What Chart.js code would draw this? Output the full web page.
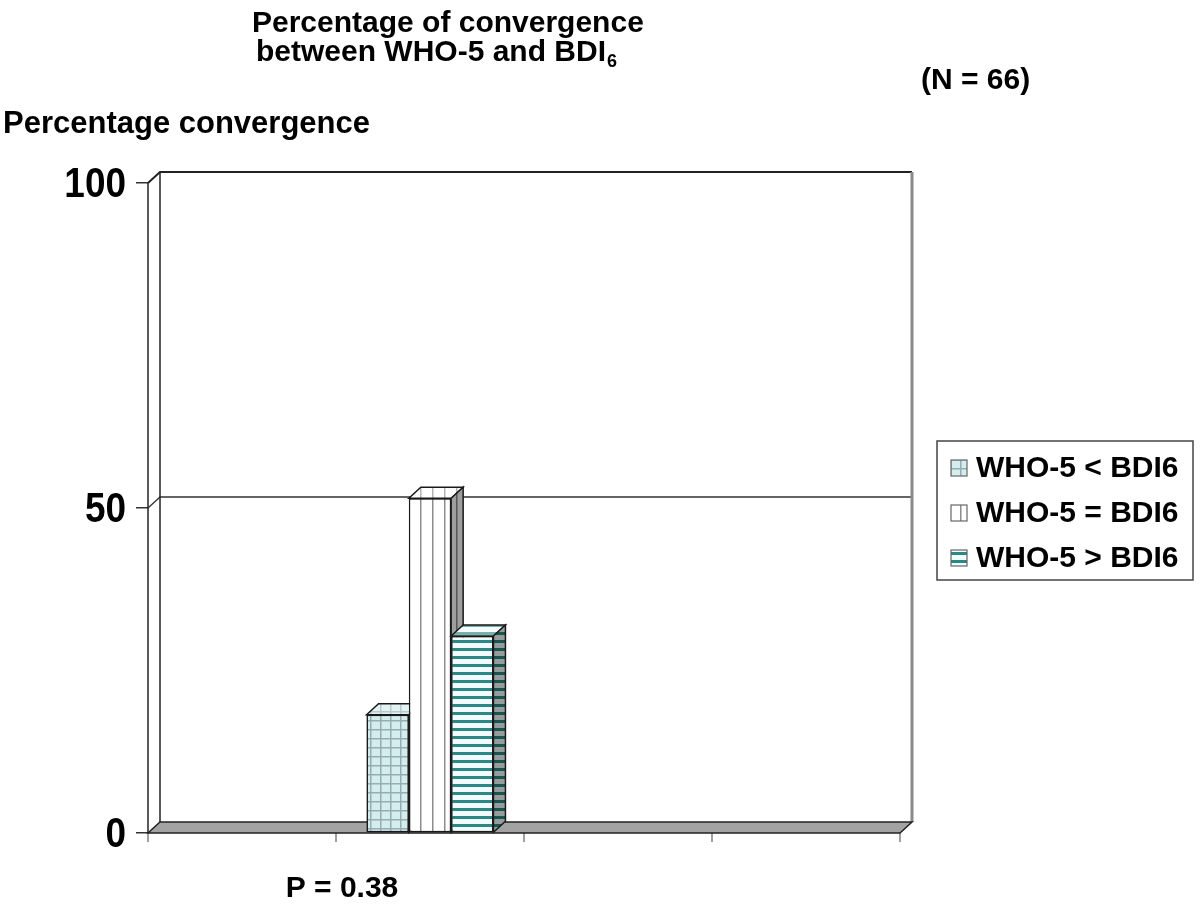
<!DOCTYPE html>
<html>
<head>
<meta charset="utf-8">
<script src="https://cdn.jsdelivr.net/npm/chart.js@4"></script>
<style>
    html, body { margin: 0; padding: 0; background: #fff; }
    #wrap { width: 1200px; height: 905px; position: relative; }
</style>
</head>
<body>
<div id="wrap"><canvas id="chart"></canvas></div>
<script>
// --- DATA ---
const slots = ['', '', '', ''];          // four positions along the floor, bars stand in the 2nd one
const barSlot = 1;
const seriesLabels = ['WHO-5 < BDI6', 'WHO-5 = BDI6', 'WHO-5 > BDI6'];
const seriesValues = [18.2, 51.5, 30.3];
const yTicks = [0, 50, 100];
const titleLines = ['Percentage of convergence', 'between WHO-5 and BDI'];
const titleSub = '6';
const nLabel = '(N = 66)';
const yTitle = 'Percentage convergence';
const pValueLabel = 'P = 0.38';

// --- 3D LOOK ---
const DX = 12, DY = -11;
const FONT = '"Liberation Sans", Arial, sans-serif';

const makePattern = (w, h, bg, draw) => {
    const c = document.createElement('canvas');
    c.width = w; c.height = h;
    const g = c.getContext('2d');
    g.fillStyle = bg;
    g.fillRect(0, 0, w, h);
    draw(g);
    return g.createPattern(c, 'repeat');
};

const patterns = [
    makePattern(10, 9, '#d4edef', g => {
        g.fillStyle = '#98adb0';
        g.fillRect(0, 0, 10, 1.5);
        g.fillRect(0, 0, 1.5, 9);
    }),
    makePattern(12, 2, '#ffffff', g => {
        g.fillStyle = '#8c8c8c';
        g.fillRect(0, 0, 1.5, 2);
    }),
    makePattern(2, 8, '#f2fbfb', g => {
        g.fillStyle = '#2b8884';
        g.fillRect(0, 0, 2, 3);
    })
];

const poly = (ctx, pts, fill, overlay, stroke) => {
    ctx.beginPath();
    pts.forEach((p, i) => i ? ctx.lineTo(p[0], p[1]) : ctx.moveTo(p[0], p[1]));
    ctx.closePath();
    if (fill) { ctx.fillStyle = fill; ctx.fill(); }
    if (overlay) { ctx.fillStyle = overlay; ctx.fill(); }
    if (stroke) { ctx.strokeStyle = stroke; ctx.lineWidth = 1.5; ctx.stroke(); }
};

const line = (ctx, pts, color, width) => {
    ctx.beginPath();
    pts.forEach((p, i) => i ? ctx.lineTo(p[0], p[1]) : ctx.moveTo(p[0], p[1]));
    ctx.strokeStyle = color;
    ctx.lineWidth = width;
    ctx.stroke();
};

const box3d = {
    id: 'box3d',
    beforeDatasetsDraw(chart) {
        const { ctx, chartArea: a, scales: { y } } = chart;
        ctx.save();
        // back wall + grid lines (0 is the floor)
        yTicks.filter(v => v > 0).forEach(v => {
            const py = y.getPixelForValue(v);
            line(ctx, [[a.left, py], [a.left + DX, py + DY], [a.right + DX, py + DY]], v === 100 ? '#222' : '#333', v === 100 ? 2 : 1.3);
        });
        line(ctx, [[a.right + DX, a.top + DY], [a.right + DX, a.bottom + DY]], '#8a8a8a', 3);
        line(ctx, [[a.left + DX, a.top + DY], [a.left + DX, a.bottom + DY]], '#222', 1.5);
        line(ctx, [[a.left, a.top], [a.left, a.bottom]], '#222', 1.5);
        // floor
        poly(ctx, [[a.left, a.bottom], [a.right, a.bottom], [a.right + DX, a.bottom + DY], [a.left + DX, a.bottom + DY]], '#a3a3a3', null, '#222');
        ctx.restore();
    },
    afterDatasetsDraw(chart) {
        const { ctx } = chart;
        const bars = [];
        chart.data.datasets.forEach((ds, i) => {
            chart.getDatasetMeta(i).data.forEach((el, k) => {
                if (ds.data[k] != null) bars.push({ el, i });
            });
        });
        bars.sort((p, q) => p.el.x - q.el.x);
        ctx.save();
        bars.forEach(({ el, i }) => {
            const l = el.x - el.width / 2, r = el.x + el.width / 2;
            el.draw(ctx);
            poly(ctx, [[l, el.y], [r, el.y], [r + DX, el.y + DY], [l + DX, el.y + DY]], patterns[i], 'rgba(255,255,255,0.35)', '#1a1a1a');
            poly(ctx, [[r, el.y], [r + DX, el.y + DY], [r + DX, el.base + DY], [r, el.base]], patterns[i], 'rgba(0,0,0,0.38)', '#1a1a1a');
        });
        ctx.restore();
    },
    afterDraw(chart) {
        const { ctx, scales: { x, y } } = chart;
        ctx.save();
        ctx.fillStyle = '#000';
        // y tick labels, a bit tall and narrow like the original
        ctx.textAlign = 'right';
        ctx.textBaseline = 'middle';
        ctx.font = `bold 42px ${FONT}`;
        yTicks.forEach(v => {
            ctx.save();
            ctx.translate(126, y.getPixelForValue(v) + 2);
            ctx.scale(0.88, 1);
            ctx.fillText(String(v), 0, 0);
            ctx.restore();
        });
        ctx.textBaseline = 'alphabetic';
        ctx.textAlign = 'left';
        // titles
        ctx.font = `bold 30px ${FONT}`;
        ctx.fillText(titleLines[0], 252, 32);
        ctx.fillText(titleLines[1], 256, 61);
        const w = ctx.measureText(titleLines[1]).width;
        ctx.font = `bold 18px ${FONT}`;
        ctx.fillText(titleSub, 256 + w + 1, 67);
        ctx.font = `bold 30px ${FONT}`;
        ctx.fillText(nLabel, 921, 89);
        ctx.font = `bold 31px ${FONT}`;
        ctx.fillText(yTitle, 3, 133);
        // p value under the floor
        ctx.textAlign = 'center';
        ctx.font = `bold 30px ${FONT}`;
        ctx.fillText(pValueLabel, x.getPixelForValue(0.5) + 6, 897);
        // legend
        ctx.strokeStyle = '#444';
        ctx.lineWidth = 1.5;
        ctx.strokeRect(937, 441, 256, 139);
        ctx.textAlign = 'left';
        ctx.textBaseline = 'middle';
        ctx.font = `bold 30px ${FONT}`;
        seriesLabels.forEach((lab, i) => {
            const cy = 468 + i * 45;
            ctx.fillStyle = patterns[i];
            ctx.fillRect(951, cy - 8, 16, 16);
            ctx.strokeStyle = '#666';
            ctx.lineWidth = 1.2;
            ctx.strokeRect(951, cy - 8, 16, 16);
            ctx.fillStyle = '#000';
            ctx.fillText(lab, 976, cy + 1);
        });
        ctx.restore();
    }
};

// --- CHART ---
const datasets = seriesLabels.map((label, i) => ({
    label,
    data: slots.map((_, k) => k === barSlot ? seriesValues[i] : null),
    backgroundColor: patterns[i],
    borderColor: '#1a1a1a',
    borderWidth: 1.5,
    borderSkipped: false,
    barPercentage: 1,
    categoryPercentage: 0.675
}));

new Chart(document.getElementById('chart'), {
    type: 'bar',
    data: { labels: slots, datasets },
    options: {
        responsive: true,
        maintainAspectRatio: false,
        animation: false,
        layout: { padding: { top: 183, right: 300, bottom: 0, left: 0 } },
        plugins: { legend: { display: false }, tooltip: { enabled: false } },
        scales: {
            x: {
                offset: true,
                afterFit: s => { s.height = 72; },
                grid: { offset: true, drawOnChartArea: false, drawTicks: true, tickLength: 9, color: '#a0a0a0', lineWidth: 2 },
                border: { display: false },
                ticks: { display: true, padding: 0, font: { size: 1 } }
            },
            y: {
                min: 0,
                max: 100,
                afterFit: s => { s.width = 148; },
                afterBuildTicks: s => { s.ticks = yTicks.map(v => ({ value: v })); },
                grid: { drawOnChartArea: false, drawTicks: true, tickLength: 12, color: '#333', lineWidth: 1.5 },
                border: { display: false },
                ticks: { display: false }
            }
        }
    },
    plugins: [box3d]
});
</script>
</body>
</html>
